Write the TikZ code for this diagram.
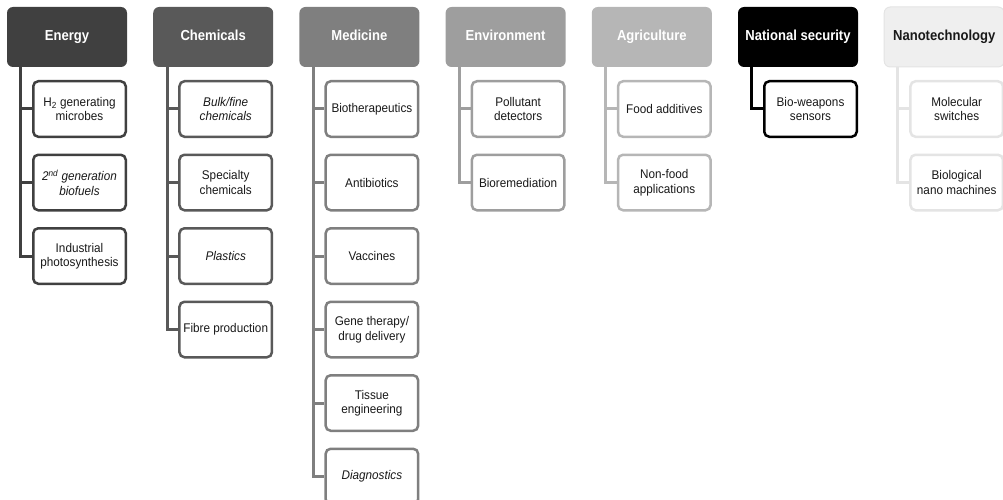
\documentclass[tikz,border=0pt]{standalone}
\usepackage{fontspec}
\setmainfont{Liberation Sans}
\newfontfamily\headfont[FakeStretch=0.9]{Liberation Sans}
\newfontfamily\leaffont[FakeStretch=0.93]{Liberation Sans}
\usetikzlibrary{positioning}

\definecolor{energycol}{HTML}{404040}
\definecolor{chemcol}{HTML}{595959}
\definecolor{medcol}{HTML}{7F7F7F}
\definecolor{envcol}{HTML}{9E9E9E}
\definecolor{agricol}{HTML}{B6B6B6}
\definecolor{seccol}{HTML}{000000}
\definecolor{nanocol}{HTML}{EFEFEF}
\definecolor{nanoline}{HTML}{E4E4E4}

\begin{document}
\begin{tikzpicture}[x=1pt,y=-1pt,
		head/.style={rounded corners=6pt, minimum width=120pt, minimum height=60pt, inner sep=0pt, text height=10.5pt, text depth=3pt, text=white, font=\headfont\fontsize{14.5}{16}\selectfont\bfseries},
		leaf/.style={draw, line width=2.5pt, fill=white, rounded corners=5pt, minimum width=92.5pt, minimum height=55.5pt, inner sep=1pt, align=center, text=black!90, font=\leaffont\fontsize{12.6}{14.5}\selectfont},
		trunk/.style={line width=3pt}]
				\useasboundingbox (0,0) rectangle (1003,500);
				\clip (0,0) rectangle (1003,500);
				% headers
				\node[head, fill=energycol] (energy) at (67,37) {Energy};
				\node[head, fill=chemcol] (chem) at (213.2,37) {Chemicals};
				\node[head, fill=medcol] (medicine) at (359.4,37) {Medicine};
				\node[head, fill=envcol] (env) at (505.6,37) {Environment};
				\node[head, fill=agricol] (agri) at (651.8,37) {Agriculture};
				\node[head, fill=seccol] (security) at (798,37) {National security};
				\node[head, fill=nanocol, draw=nanoline, line width=1pt, text=black!90] (nano) at (944.2,37) {Nanotechnology};
				% energy
				\node[leaf, draw=energycol] (e1) at (79.5,109) {H\textsubscript{2} generating\\microbes};
				\node[leaf, draw=energycol] (e2) at (79.5,182.5) {\itshape 2\textsuperscript{nd} generation\\\itshape biofuels};
				\node[leaf, draw=energycol] (e3) at (79.5,256) {Industrial\\photosynthesis};
				% chemicals
				\node[leaf, draw=chemcol] (c1) at (225.7,109) {\itshape Bulk/fine\\\itshape chemicals};
				\node[leaf, draw=chemcol] (c2) at (225.7,182.5) {Specialty\\chemicals};
				\node[leaf, draw=chemcol] (c3) at (225.7,256) {\itshape Plastics};
				\node[leaf, draw=chemcol] (c4) at (225.7,329.5) {Fibre production};
				% medicine
				\node[leaf, draw=medcol] (m1) at (371.9,109) {Biotherapeutics};
				\node[leaf, draw=medcol] (m2) at (371.9,182.5) {Antibiotics};
				\node[leaf, draw=medcol] (m3) at (371.9,256) {Vaccines};
				\node[leaf, draw=medcol] (m4) at (371.9,329.5) {Gene therapy/\\drug delivery};
				\node[leaf, draw=medcol] (m5) at (371.9,403) {Tissue\\engineering};
				\node[leaf, draw=medcol] (m6) at (371.9,476.5) {\itshape Diagnostics};
				% environment, agriculture, security, nano
				\node[leaf, draw=envcol] (v1) at (518.1,109) {Pollutant\\detectors};
				\node[leaf, draw=envcol] (v2) at (518.1,182.5) {Bioremediation};
				\node[leaf, draw=agricol] (a1) at (664.3,109) {Food additives};
				\node[leaf, draw=agricol] (a2) at (664.3,182.5) {Non-food\\applications};
				\node[leaf, draw=seccol] (s1) at (810.5,109) {Bio-weapons\\sensors};
				\node[leaf, draw=nanoline] (n1) at (956.7,109) {Molecular\\switches};
				\node[leaf, draw=nanoline] (n2) at (956.7,182.5) {Biological\\nano machines};
				% connectors
				\draw[trunk, energycol] ([xshift=14pt]energy.south west) |- (e1.west);
				\draw[trunk, energycol] ([xshift=14pt]energy.south west) |- (e2.west);
				\draw[trunk, energycol] ([xshift=14pt]energy.south west) |- (e3.west);
				\draw[trunk, chemcol] ([xshift=14pt]chem.south west) |- (c1.west);
				\draw[trunk, chemcol] ([xshift=14pt]chem.south west) |- (c2.west);
				\draw[trunk, chemcol] ([xshift=14pt]chem.south west) |- (c3.west);
				\draw[trunk, chemcol] ([xshift=14pt]chem.south west) |- (c4.west);
				\draw[trunk, medcol] ([xshift=14pt]medicine.south west) |- (m1.west);
				\draw[trunk, medcol] ([xshift=14pt]medicine.south west) |- (m2.west);
				\draw[trunk, medcol] ([xshift=14pt]medicine.south west) |- (m3.west);
				\draw[trunk, medcol] ([xshift=14pt]medicine.south west) |- (m4.west);
				\draw[trunk, medcol] ([xshift=14pt]medicine.south west) |- (m5.west);
				\draw[trunk, medcol] ([xshift=14pt]medicine.south west) |- (m6.west);
				\draw[trunk, envcol] ([xshift=14pt]env.south west) |- (v1.west);
				\draw[trunk, envcol] ([xshift=14pt]env.south west) |- (v2.west);
				\draw[trunk, agricol] ([xshift=14pt]agri.south west) |- (a1.west);
				\draw[trunk, agricol] ([xshift=14pt]agri.south west) |- (a2.west);
				\draw[trunk, seccol] ([xshift=14pt]security.south west) |- (s1.west);
				\draw[trunk, nanoline] ([xshift=14pt]nano.south west) |- (n1.west);
				\draw[trunk, nanoline] ([xshift=14pt]nano.south west) |- (n2.west);
			\end{tikzpicture}
\end{document}
